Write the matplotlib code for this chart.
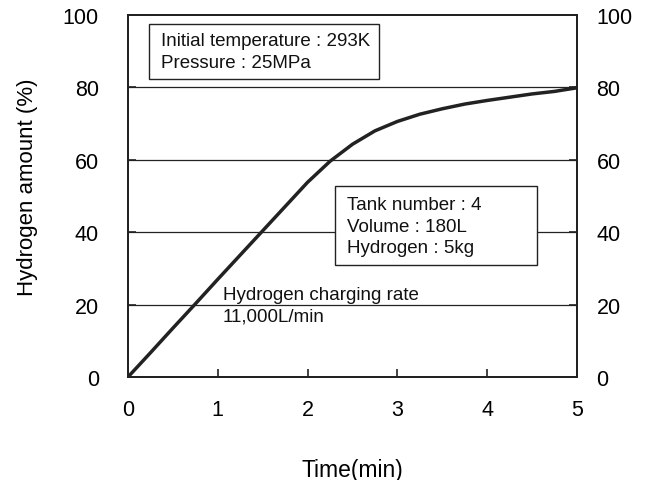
import numpy as np
import matplotlib
matplotlib.use('Agg')
import matplotlib.pyplot as plt
from matplotlib.patches import Rectangle

plt.rcParams['font.family'] = ['Liberation Sans', 'DejaVu Sans']

# #############################################################################
# Data
time_min = [0, 0.25, 0.5, 0.75, 1.0, 1.25, 1.5, 1.75, 2.0, 2.25, 2.5,
            2.75, 3.0, 3.25, 3.5, 3.75, 4.0, 4.25, 4.5, 4.75, 5.0]
h2_amount = [0, 6.7, 13.5, 20.2, 27.0, 33.7, 40.4, 47.1, 53.8, 59.6, 64.3,
             68.0, 70.6, 72.6, 74.1, 75.4, 76.4, 77.3, 78.2, 78.9, 79.9]
x_ticks = [0, 1, 2, 3, 4, 5]
y_ticks = [0, 20, 40, 60, 80, 100]
grid_levels = [20, 40, 60, 80]

box1_lines = ['Initial temperature : 293K', 'Pressure : 25MPa']
box2_lines = ['Tank number : 4', 'Volume : 180L', 'Hydrogen : 5kg']
rate_lines = ['Hydrogen charging rate', '11,000L/min']

# #############################################################################
# Plot
fig = plt.figure(figsize=(6.51, 4.81), dpi=100)
ax = fig.add_axes([0.1966, 0.2141, 0.6897, 0.7526])

for g in grid_levels:
    ax.axhline(g, color='#222222', lw=0.9, zorder=1)

ax.plot(time_min, h2_amount, color='#222222', lw=2.5, zorder=3)

ax.set_xlim(0, 5)
ax.set_ylim(0, 100)
ax.set_xticks(x_ticks)
ax.set_yticks(y_ticks)
ax.tick_params(axis='both', direction='in', length=6, width=1.2,
               labelsize=15.5, color='#222222')
ax.tick_params(axis='x', pad=16)
ax.tick_params(axis='y', pad=21)

# right-hand copy of the y axis, labels closer to the frame
ax2 = ax.twinx()
ax2.set_ylim(0, 100)
ax2.set_yticks(y_ticks)
ax2.tick_params(axis='y', direction='in', length=6, width=1.2,
                labelsize=15.5, color='#222222', pad=14)

for a in (ax, ax2):
    for s in a.spines.values():
        s.set_linewidth(1.4)
        s.set_color('#222222')

ax.set_xlabel('Time(min)', fontsize=16.5, labelpad=27)
ax.set_ylabel('Hydrogen amount (%)', fontsize=16)
ax.yaxis.set_label_coords(-0.2, 0.526)

# info boxes
ax.add_patch(Rectangle((0.234, 82.4), 2.561, 15.2, fill=True, fc='white',
                       ec='#222222', lw=1.0, zorder=4))
ax.text(0.367, 89.9, '\n'.join(box1_lines), fontsize=13.5, va='center',
        ha='left', linespacing=1.33, zorder=5, color='#111111')

ax.add_patch(Rectangle((2.305, 31.0), 2.25, 21.8, fill=True, fc='white',
                       ec='#222222', lw=1.0, zorder=4))
ax.text(2.439, 41.7, '\n'.join(box2_lines), fontsize=13.5, va='center',
        ha='left', linespacing=1.33, zorder=5, color='#111111')

ax.text(1.058, 19.9, '\n'.join(rate_lines), fontsize=13.5, va='center',
        ha='left', linespacing=1.33, zorder=5, color='#111111')

fig.savefig('out.png', dpi=100)
